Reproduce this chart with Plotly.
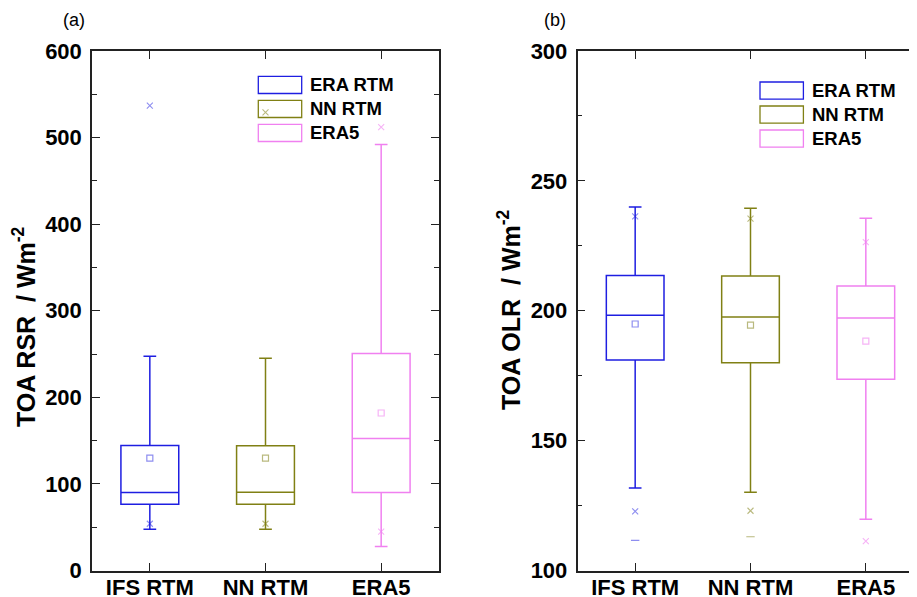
import plotly.graph_objects as go

# Page body has an 8px margin: figure pixel = screen pixel - OFF
OFF = 8
W, H = 925, 605

categories = ["IFS RTM", "NN RTM", "ERA5"]
series_names = ["ERA RTM", "NN RTM", "ERA5"]
line_colors = ["rgb(30,30,225)", "rgb(128,128,20)", "rgb(240,128,240)"]
faint_colors = ["rgba(30,30,225,0.5)", "rgba(128,128,20,0.55)", "rgba(240,128,240,0.6)"]

# (a) TOA RSR statistics
rsr_q1 = [76.4, 76.4, 90.0]
rsr_median = [90.0, 90.3, 152.5]
rsr_q3 = [144.4, 144.0, 250.6]
rsr_lower = [47.5, 47.5, 27.8]
rsr_upper = [247.5, 245.0, 492.0]
rsr_mean = [129.7, 129.7, 181.9]
rsr_p1 = [54.0, 54.0, 44.8]
rsr_p99 = [537.0, 529.0, 512.0]

# (b) TOA OLR statistics
olr_q1 = [181.0, 180.0, 173.6]
olr_median = [198.3, 197.6, 197.2]
olr_q3 = [213.6, 213.4, 209.5]
olr_lower = [131.8, 130.1, 119.7]
olr_upper = [239.9, 239.5, 235.6]
olr_mean = [194.9, 194.5, 188.3]
olr_p1 = [122.8, 123.0, 111.3]
olr_p99 = [236.3, 235.5, 226.4]
olr_min = [111.6, 113.0, None]

fig = go.Figure()


def add_panel(xa, ya, q1, med, q3, lo, hi, mean, p1, p99, mn=None):
    for i, cat in enumerate(categories):
        fig.add_trace(go.Box(
            x=[cat], q1=[q1[i]], median=[med[i]], q3=[q3[i]],
            lowerfence=[lo[i]], upperfence=[hi[i]],
            width=0.5, whiskerwidth=0.22, boxpoints=False,
            line=dict(color=line_colors[i], width=1.5),
            fillcolor="rgba(0,0,0,0)", name=series_names[i],
            showlegend=False, hoverinfo="skip", xaxis=xa, yaxis=ya))
    fig.add_trace(go.Scatter(
        x=categories, y=mean, mode="markers", xaxis=xa, yaxis=ya,
        marker=dict(symbol="square-open", size=6, color=faint_colors,
                    line=dict(width=1.2, color=faint_colors)),
        showlegend=False, hoverinfo="skip"))
    fig.add_trace(go.Scatter(
        x=categories + categories, y=p1 + p99, mode="markers", xaxis=xa, yaxis=ya,
        marker=dict(symbol="x-thin-open", size=6, color=faint_colors + faint_colors,
                    line=dict(width=1.1, color=faint_colors + faint_colors)),
        showlegend=False, hoverinfo="skip"))
    if mn is not None:
        fig.add_trace(go.Scatter(
            x=categories, y=mn, mode="markers", xaxis=xa, yaxis=ya,
            marker=dict(symbol="line-ew-open", size=6, color=faint_colors,
                        line=dict(width=1.1, color=faint_colors)),
            showlegend=False, hoverinfo="skip"))


add_panel("x", "y", rsr_q1, rsr_median, rsr_q3, rsr_lower, rsr_upper,
          rsr_mean, rsr_p1, rsr_p99)
add_panel("x2", "y2", olr_q1, olr_median, olr_q3, olr_lower, olr_upper,
          olr_mean, olr_p1, olr_p99, olr_min)


def px(x):
    return (x - OFF) / W


def py(y):
    return 1 - (y - OFF) / H


FONT = "Arial, Liberation Sans, sans-serif"
tickfont = dict(family=FONT, size=22, color="black", weight="bold")
ydom = [py(570.5), py(51)]

common_x = dict(type="category", categoryarray=categories, showline=True,
                linecolor="#222", linewidth=1.5, mirror="ticks", ticks="inside",
                ticklen=8, tickwidth=1.3, tickcolor="#222", showgrid=False,
                zeroline=False, tickfont=tickfont, ticklabelstandoff=-4,
                automargin=False)
common_y = dict(showline=True, linecolor="#222", linewidth=1.5, mirror="ticks",
                ticks="inside", ticklen=8, tickwidth=1.3, tickcolor="#222",
                showgrid=False, zeroline=False, tickfont=tickfont,
                ticklabelstandoff=4, automargin=False)

fig.update_layout(
    template="none",
    width=W, height=H, margin=dict(l=0, r=0, t=0, b=0, pad=0),
    paper_bgcolor="white", plot_bgcolor="white", showlegend=False,
    xaxis=dict(domain=[px(92), px(439)], range=[-0.5, 2.5], anchor="y", **common_x),
    yaxis=dict(domain=ydom, range=[0, 600], dtick=100, anchor="x",
               minor=dict(ticks="inside", ticklen=5, dtick=50, tickwidth=1.2,
                          tickcolor="#222"), **common_y),
    xaxis2=dict(domain=[px(577.5), px(923.5)], range=[-0.5, 2.5], anchor="y2", **common_x),
    yaxis2=dict(domain=ydom, range=[100, 300], dtick=50, anchor="x2",
                minor=dict(ticks="inside", ticklen=5, dtick=25, tickwidth=1.2,
                           tickcolor="#222"), **common_y),
)

annotations = []
shapes = []


def label(text, x, y, size, bold=False, angle=0, xanchor="center"):
    f = dict(family=FONT, size=size, color="black")
    if bold:
        f["weight"] = "bold"
    annotations.append(dict(text=text, x=px(x), y=py(y), xref="paper", yref="paper",
                            xanchor=xanchor, yanchor="middle", showarrow=False,
                            textangle=angle, font=f))


# axis titles
label("TOA RSR  / Wm<sup>-2</sup>", 24, 327, 25, bold=True, angle=-90)
label("TOA OLR  / Wm<sup>-2</sup>", 509, 310, 25, bold=True, angle=-90)
# panel labels
label("(a)", 74, 20, 18)
label("(b)", 555, 20, 18)

# legends
for lx, ly in [(258.3, 76.3), (760, 82)]:
    for i, name in enumerate(series_names):
        y0 = ly + i * 24
        shapes.append(dict(type="rect", xref="paper", yref="paper",
                           x0=px(lx), x1=px(lx + 43.4), y0=py(y0), y1=py(y0 + 17.2),
                           line=dict(color=line_colors[i], width=1.3),
                           fillcolor="rgba(0,0,0,0)"))
        label(name, lx + 50, y0 + 8.6, 18.5, bold=True, xanchor="left")

fig.update_layout(annotations=annotations, shapes=shapes)
fig.write_html("out.html")
